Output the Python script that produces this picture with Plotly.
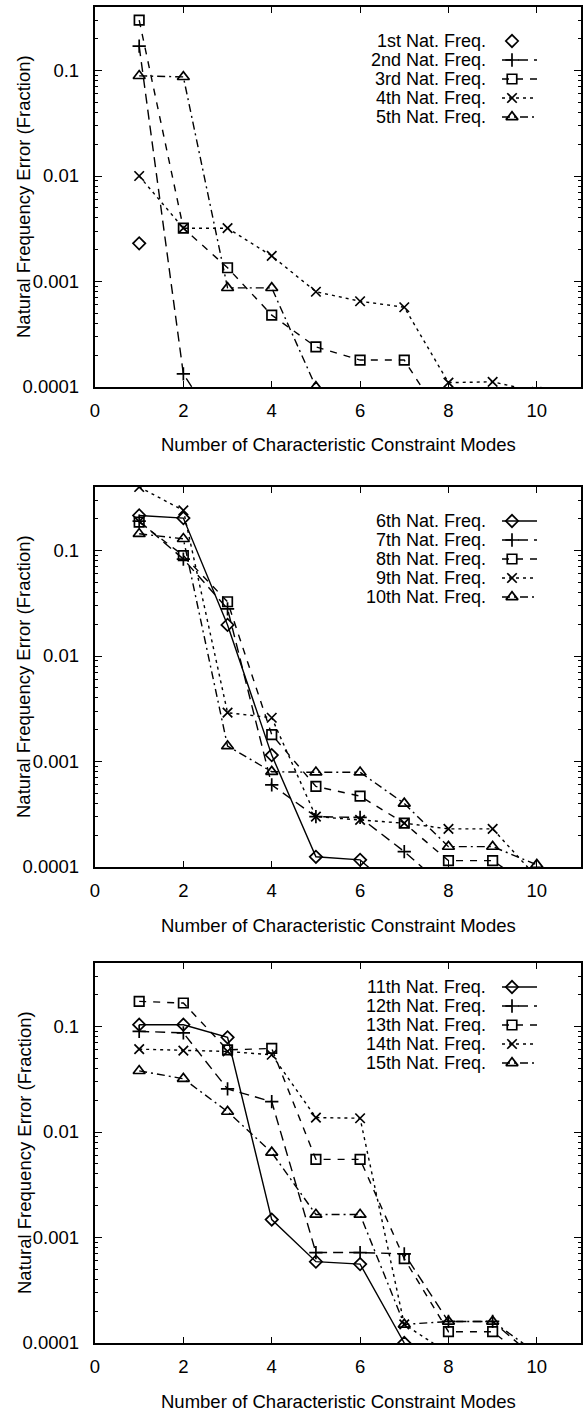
import math
import plotly.graph_objects as go

# ---------------- data ----------------
modes = [1, 2, 3, 4, 5, 6, 7, 8, 9, 10]

panel1_names = ["1st Nat. Freq.", "2nd Nat. Freq.", "3rd Nat. Freq.", "4th Nat. Freq.", "5th Nat. Freq."]
f1 = [0.0023]
f2 = [0.17, 0.000133, 0.00003]
f3 = [0.30, 0.0032, 0.00135, 0.00048, 0.00024, 0.00018, 0.00018, 0.00004]
f4 = [0.010, 0.0032, 0.0032, 0.00175, 0.00080, 0.00065, 0.00057, 0.00011, 0.000112, 0.00009]
f5 = [0.089, 0.087, 0.00087, 0.00087, 0.0001, 0.00002]

panel2_names = ["6th Nat. Freq.", "7th Nat. Freq.", "8th Nat. Freq.", "9th Nat. Freq.", "10th Nat. Freq."]
f6 = [0.215, 0.203, 0.0197, 0.00115, 0.000125, 0.000117, 0.00005]
f7 = [0.19, 0.083, 0.028, 0.0006, 0.0003, 0.000295, 0.00014, 0.00006]
f8 = [0.186, 0.0896, 0.0327, 0.0018, 0.00058, 0.00047, 0.00026, 0.000115, 0.000115, 0.00006]
f9 = [0.40, 0.24, 0.0029, 0.0026, 0.0003, 0.00028, 0.00026, 0.00023, 0.00023, 0.00008]
f10 = [0.144, 0.129, 0.0014, 0.0008, 0.00079, 0.00079, 0.0004, 0.000156, 0.000156, 0.000105]

panel3_names = ["11th Nat. Freq.", "12th Nat. Freq.", "13th Nat. Freq.", "14th Nat. Freq.", "15th Nat. Freq."]
f11 = [0.104, 0.104, 0.079, 0.00148, 0.00059, 0.00056, 0.0001]
f12 = [0.09, 0.087, 0.0256, 0.0194, 0.00072, 0.00072, 0.0007, 0.00016, 0.00016, 0.00007]
f13 = [0.173, 0.167, 0.060, 0.062, 0.0055, 0.0055, 0.00063, 0.000128, 0.000128, 0.00006]
f14 = [0.061, 0.059, 0.058, 0.054, 0.0137, 0.0135, 0.00015, 0.00008]
f15 = [0.038, 0.032, 0.0156, 0.0064, 0.00165, 0.00165, 0.00015, 0.00016, 0.00016, 0.00008]

x_ticks = [0, 2, 4, 6, 8, 10]
y_tickvals = [0.1, 0.01, 0.001, 0.0001]
y_ticktext = ["0.1", "0.01", "0.001", "0.0001"]
x_title = "Number of Characteristic Constraint Modes"
y_title = "Natural Frequency Error (Fraction)"

# ---------------- styling / layout ----------------
FIG_W, FIG_H = 586, 1412
X0, X1 = 95, 581
TOPS = [7, 487, 963]
PANEL_H = 380
X_RANGE = [0, 11]
Y_RANGE = [-4, math.log10(0.4)]
FONT = "Liberation Sans, Arial, Helvetica, sans-serif"
FS = 18.5
FS_KEY = 18

styles = [
    dict(symbol="diamond-open", dash="solid", mode="markers"),
    dict(symbol="cross-thin-open", dash="10px,6px", mode="lines+markers"),
    dict(symbol="square-open", dash="7px,7px", mode="lines+markers"),
    dict(symbol="x-thin-open", dash="3px,4px", mode="lines+markers"),
    dict(symbol="triangle-up-open", dash="8px,4px,2px,4px", mode="lines+markers"),
]
styles_solid_first = [dict(styles[0], mode="lines+markers")] + styles[1:]

panels = [
    (panel1_names, [f1, f2, f3, f4, f5], styles),
    (panel2_names, [f6, f7, f8, f9, f10], styles_solid_first),
    (panel3_names, [f11, f12, f13, f14, f15], styles_solid_first),
]
LEGEND_TOP = [34, 34, 24]
LEGEND_STEP = 19
LEG_TEXT_RIGHT = 488
LEG_LINE = (502, 537)
LEG_MARK = 512

def px_to_x(px):
    return X_RANGE[0] + (px - X0) / (X1 - X0) * (X_RANGE[1] - X_RANGE[0])

def py_to_y(py, top):
    frac = (py - top) / PANEL_H
    return 10 ** (Y_RANGE[1] - frac * (Y_RANGE[1] - Y_RANGE[0]))

fig = go.Figure()
annotations = []
layout_axes = {}

for p, (names, series, stl) in enumerate(panels):
    k = "" if p == 0 else str(p + 1)
    xa, ya = "x" + k, "y" + k
    top = TOPS[p]
    bottom = top + PANEL_H
    for i, (name, vals) in enumerate(zip(names, series)):
        s = stl[i]
        msize = 10.5 if "triangle" in s["symbol"] else 9.5
        marker = dict(symbol=s["symbol"], size=msize, color="black",
                      line=dict(color="black", width=1.7))
        fig.add_trace(go.Scatter(
            x=modes[:len(vals)], y=vals, mode=s["mode"], name=name,
            xaxis=xa, yaxis=ya, showlegend=False,
            line=dict(color="black", width=1.4, dash=s["dash"]),
            marker=marker, cliponaxis=True))
        # key entry
        ry = top + LEGEND_TOP[p] + i * LEGEND_STEP
        yk = py_to_y(ry, top)
        if "lines" in s["mode"]:
            fig.add_trace(go.Scatter(
                x=[px_to_x(LEG_LINE[0]), px_to_x(LEG_MARK), px_to_x(LEG_LINE[1])],
                y=[yk, yk, yk], mode="lines+markers", xaxis=xa, yaxis=ya,
                showlegend=False, hoverinfo="skip",
                line=dict(color="black", width=1.4, dash=s["dash"]),
                marker=dict(symbol=s["symbol"], size=msize, color="black",
                            opacity=[0, 1, 0], line=dict(color="black", width=1.7))))
        else:
            fig.add_trace(go.Scatter(
                x=[px_to_x(LEG_MARK)], y=[yk], mode="markers", xaxis=xa, yaxis=ya,
                showlegend=False, hoverinfo="skip", marker=marker))
        annotations.append(dict(
            text=name, xref="paper", yref="paper", x=LEG_TEXT_RIGHT / FIG_W,
            y=1 - ry / FIG_H, xanchor="right", yanchor="middle", showarrow=False,
            font=dict(family=FONT, size=FS_KEY, color="black")))

    dom_y = [1 - bottom / FIG_H, 1 - top / FIG_H]
    axis_common = dict(showline=True, linewidth=2.4, linecolor="black", mirror="allticks",
                       ticks="inside", tickcolor="black", tickwidth=1.3, showgrid=False,
                       zeroline=False, automargin=False,
                       tickfont=dict(family=FONT, size=FS, color="black"))
    layout_axes["xaxis" + k] = dict(axis_common, domain=[X0 / FIG_W, X1 / FIG_W],
                                    anchor=ya, range=X_RANGE, tickvals=x_ticks,
                                    ticklen=6, ticklabelstandoff=6)
    layout_axes["yaxis" + k] = dict(axis_common, domain=dom_y, anchor=xa, type="log",
                                    range=Y_RANGE, tickvals=y_tickvals, ticktext=y_ticktext,
                                    ticklen=7, ticklabelstandoff=10,
                                    minor=dict(ticks="inside", ticklen=3, tickcolor="black",
                                               tickwidth=1, dtick="D1", showgrid=False))
    annotations.append(dict(
        text=x_title, xref="paper", yref="paper", x=(X0 + X1) / 2 / FIG_W,
        y=1 - (bottom + 58) / FIG_H, xanchor="center", yanchor="middle", showarrow=False,
        font=dict(family=FONT, size=FS, color="black")))
    annotations.append(dict(
        text=y_title, xref="paper", yref="paper", x=24 / FIG_W,
        y=1 - (top + PANEL_H / 2) / FIG_H, xanchor="center", yanchor="middle",
        textangle=-90, showarrow=False, font=dict(family=FONT, size=FS, color="black")))

fig.update_layout(width=FIG_W, height=FIG_H, autosize=False,
                  margin=dict(l=0, r=0, t=0, b=0, pad=0),
                  paper_bgcolor="white", plot_bgcolor="white",
                  showlegend=False, annotations=annotations, **layout_axes)

fig.write_html("out.html", config={"displayModeBar": False},
               post_script="document.body.style.margin='0px';document.body.style.padding='0px';")
